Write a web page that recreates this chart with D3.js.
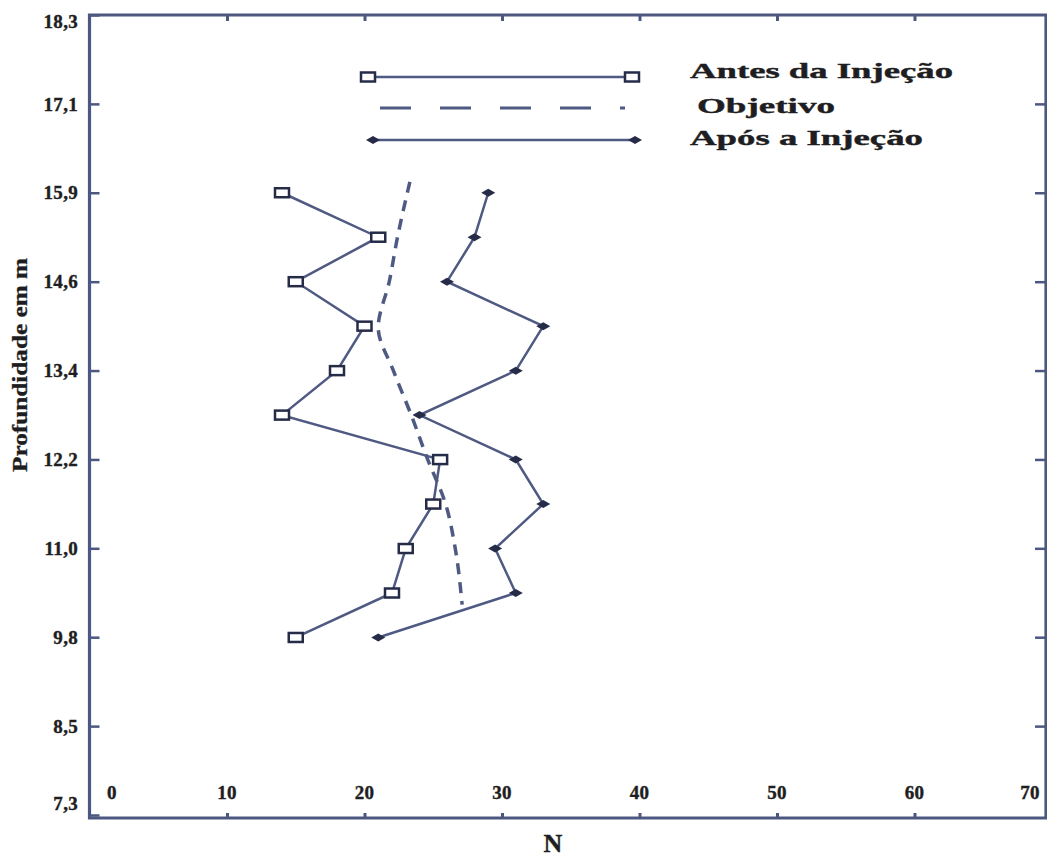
<!DOCTYPE html>
<html><head><meta charset="utf-8">
<script src="https://cdn.jsdelivr.net/npm/d3@7"></script>
<style>html,body{margin:0;padding:0;background:#fff;}svg{display:block;}</style>
</head><body>
<svg id="chart" width="1047" height="857"></svg>
<script>
// ---- data ----
const depths = [15.85, 15.24, 14.63, 14.02, 13.41, 12.80, 12.19, 11.58, 10.97, 10.36, 9.75];
const antes  = [14, 21, 15, 20, 18, 14, 25.5, 25, 23, 22, 15];
const apos   = [29, 28, 26, 33, 31, 24, 31, 33, 29.5, 31, 21];
const objDepths = [16.0, 15.24, 14.63, 14.0, 13.41, 12.8, 12.19, 11.58, 10.97, 10.2];
const objetivo  = [23.3, 22.4, 21.8, 21.0, 22.1, 23.4, 24.6, 25.9, 26.6, 27.1];
const yTickValues = [7.315, 8.534, 9.754, 10.973, 12.192, 13.411, 14.630, 15.850, 17.069, 18.288];
const yTickLabels = ["7,3", "8,5", "9,8", "11,0", "12,2", "13,4", "14,6", "15,9", "17,1", "18,3"];
const xTickValues = [0, 10, 20, 30, 40, 50, 60, 70];
const seriesNames = ["Antes da Injeção", "Objetivo", "Após a Injeção"];

// ---- layout ----
const svg = d3.select("#chart");
const pLeft = 89.5, pTop = 15, pBottom = 816, pRight = 1046;
const x = d3.scaleLinear().domain([0, 70]).range([pLeft, pLeft + 70 * 13.75]);
const y = d3.scaleLinear().domain([7.315, 18.288]).range([pBottom - 1, pTop]);
const frameColor = "#4d5880";
const lineColor = "#4f5a82";
const markColor = "#262b48";
const textColor = "#1e1e22";
const font = "'Liberation Serif','Times New Roman',serif";

// frame
svg.append("path")
  .attr("d", `M${pLeft},${pTop}H${pRight}V${pBottom + 2}H${pLeft}Z`)
  .attr("fill", "none").attr("stroke", frameColor).attr("stroke-width", 3.2);

// left axis ticks (inward)
const gl = svg.append("g").attr("transform", `translate(${pLeft},0)`)
  .call(d3.axisRight(y).tickValues(yTickValues).tickSize(10).tickFormat(""));
gl.select(".domain").remove();
gl.selectAll("line").attr("stroke", frameColor).attr("stroke-width", 2.5);
// right axis ticks (inward)
const gr = svg.append("g").attr("transform", `translate(${pRight},0)`)
  .call(d3.axisLeft(y).tickValues(yTickValues.slice(1, -1)).tickSize(11).tickFormat(""));
gr.select(".domain").remove();
gr.selectAll("line").attr("stroke", frameColor).attr("stroke-width", 2.5);
// bottom ticks
const gb = svg.append("g").attr("transform", `translate(0,${pBottom + 2})`)
  .call(d3.axisTop(x).tickValues(xTickValues.slice(1, -1)).tickSize(5).tickFormat(""));
gb.select(".domain").remove();
gb.selectAll("line").attr("stroke", frameColor).attr("stroke-width", 3);
// top ticks
const gt = svg.append("g").attr("transform", `translate(0,${pTop})`)
  .call(d3.axisBottom(x).tickValues(xTickValues.slice(1, -1)).tickSize(6).tickFormat(""));
gt.select(".domain").remove();
gt.selectAll("line").attr("stroke", frameColor).attr("stroke-width", 3);

// y tick labels
svg.append("g").selectAll("text").data(yTickValues).join("text")
  .attr("x", 78)
  .attr("y", d => Math.max(21, Math.min(803, y(d))))
  .attr("dy", "0.35em")
  .attr("text-anchor", "end")
  .attr("font-family", font).attr("font-weight", "bold").attr("font-size", 19)
  .attr("letter-spacing", 0.3)
  .attr("fill", textColor).attr("stroke", textColor).attr("stroke-width", 0.4)
  .text((d, i) => yTickLabels[i]);

// x tick labels (inside, above bottom)
svg.append("g").selectAll("text").data(xTickValues).join("text")
  .attr("x", d => Math.max(112, Math.min(1030, x(d))))
  .attr("y", 792)
  .attr("dy", "0.35em")
  .attr("text-anchor", "middle")
  .attr("font-family", font).attr("font-weight", "bold").attr("font-size", 19)
  .attr("letter-spacing", 0.3)
  .attr("fill", textColor).attr("stroke", textColor).attr("stroke-width", 0.4)
  .text(d => d);

// axis titles
svg.append("text")
  .attr("transform", "translate(20,365) rotate(-90)")
  .attr("text-anchor", "middle").attr("dy", "0.35em")
  .attr("font-family", font).attr("font-weight", "bold").attr("font-size", 21)
  .attr("textLength", 214).attr("lengthAdjust", "spacingAndGlyphs")
  .attr("fill", textColor).attr("stroke", textColor).attr("stroke-width", 0.3)
  .text("Profundidade em m");
svg.append("text")
  .attr("x", 553).attr("y", 843).attr("dy", "0.35em")
  .attr("text-anchor", "middle")
  .attr("font-family", font).attr("font-weight", "bold").attr("font-size", 26)
  .attr("fill", textColor).attr("stroke", textColor).attr("stroke-width", 0.4)
  .text("N");

// series lines
const lineGen = d3.line().x(d => x(d[0])).y(d => y(d[1]));
const antesPts = antes.map((v, i) => [v, depths[i]]);
const aposPts = apos.map((v, i) => [v, depths[i]]);
const objPts = objetivo.map((v, i) => [v, objDepths[i]]);

svg.append("path").attr("d", d3.line().curve(d3.curveMonotoneY).x(d => x(d[0])).y(d => y(d[1]))(objPts))
  .attr("fill", "none").attr("stroke", lineColor).attr("stroke-width", 3.5)
  .attr("stroke-dasharray", "11,8");
svg.append("path").attr("d", lineGen(antesPts))
  .attr("fill", "none").attr("stroke", lineColor).attr("stroke-width", 2.5);
svg.append("path").attr("d", lineGen(aposPts))
  .attr("fill", "none").attr("stroke", lineColor).attr("stroke-width", 2.5);

const diamond = "M-7,0L0,-4L7,0L0,4Z";
svg.append("g").selectAll("rect").data(antesPts).join("rect")
  .attr("x", d => x(d[0]) - 7).attr("y", d => y(d[1]) - 4.5)
  .attr("width", 14).attr("height", 9)
  .attr("fill", "#fff").attr("stroke", markColor).attr("stroke-width", 2.5);
svg.append("g").selectAll("path").data(aposPts).join("path")
  .attr("transform", d => `translate(${x(d[0])},${y(d[1])})`)
  .attr("d", diamond).attr("fill", markColor);

// legend
const lg = svg.append("g");
lg.append("line").attr("x1", 368).attr("x2", 632).attr("y1", 77).attr("y2", 77)
  .attr("stroke", lineColor).attr("stroke-width", 2.5);
[368, 632].forEach(px => lg.append("rect").attr("x", px - 7).attr("y", 77 - 4.5)
  .attr("width", 14).attr("height", 9).attr("fill", "#fff")
  .attr("stroke", markColor).attr("stroke-width", 2.5));
lg.append("line").attr("x1", 380).attr("x2", 625).attr("y1", 108).attr("y2", 108)
  .attr("stroke", lineColor).attr("stroke-width", 3).attr("stroke-dasharray", "31,29");
lg.append("line").attr("x1", 373).attr("x2", 635).attr("y1", 140).attr("y2", 140)
  .attr("stroke", lineColor).attr("stroke-width", 2.5);
[373, 635].forEach(px => lg.append("path").attr("transform", `translate(${px},140)`)
  .attr("d", diamond).attr("fill", markColor));

const legText = [
  {x: 690, y: 70, w: 263},
  {x: 697, y: 105, w: 138},
  {x: 690, y: 137, w: 233}
];
lg.selectAll("text.leg").data(seriesNames).join("text").attr("class", "leg")
  .attr("x", (d, i) => legText[i].x).attr("y", (d, i) => legText[i].y)
  .attr("dy", "0.35em")
  .attr("font-family", font).attr("font-weight", "bold").attr("font-size", 22)
  .attr("textLength", (d, i) => legText[i].w).attr("lengthAdjust", "spacingAndGlyphs")
  .attr("fill", textColor).attr("stroke", textColor).attr("stroke-width", 0.4)
  .text(d => d);
</script>
</body></html>
